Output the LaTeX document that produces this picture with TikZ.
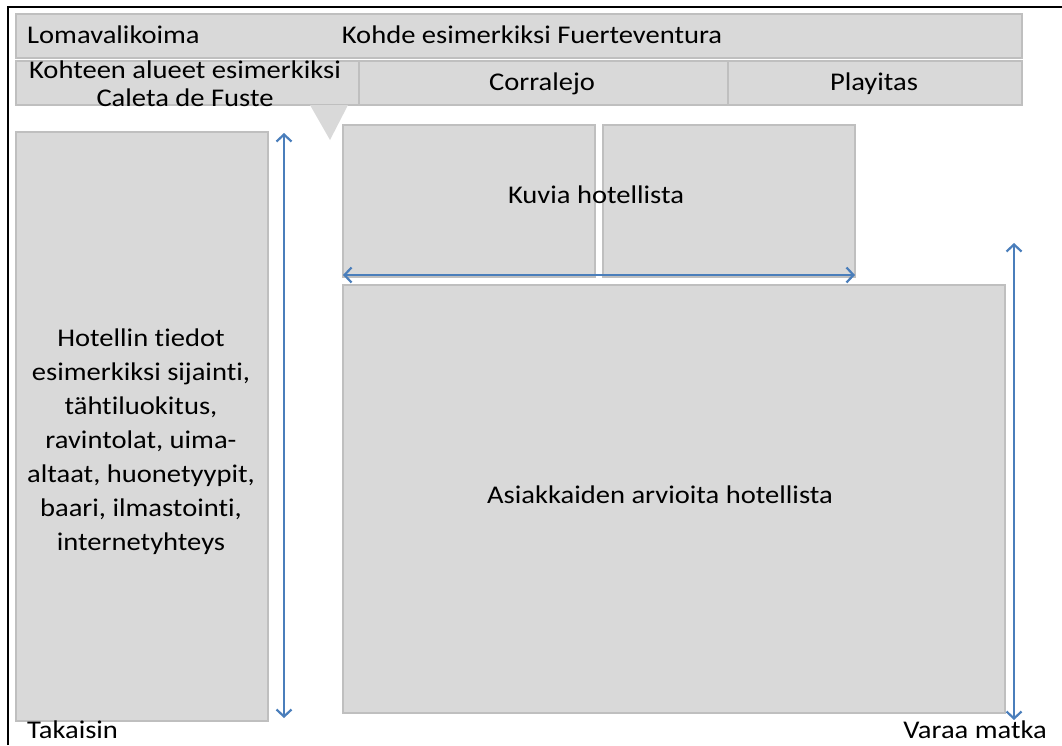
\documentclass[tikz,border=0pt]{standalone}
\usepackage{fontspec}
\setmainfont{Carlito}[FakeStretch=1.12, Ligatures=NoCommon]
\usetikzlibrary{arrows.meta}
\definecolor{boxgray}{HTML}{D9D9D9}
\definecolor{boxedge}{HTML}{BFBFBF}
\definecolor{arrowblue}{HTML}{4A7EBB}
\begin{document}
\begin{tikzpicture}[x=1pt,y=-1pt,
    panel/.style={draw=boxedge, fill=boxgray, line width=1.5pt, inner sep=0pt, anchor=north west},
    txt/.style={font=\fontsize{25.5}{34}\selectfont, inner sep=0pt, align=center},
    scroll/.style={draw=arrowblue, line width=2.2pt,
      {Straight Barb[length=7pt,width=15pt,line width=2.2pt]}-{Straight Barb[length=7pt,width=15pt,line width=2.2pt]}}]
  \useasboundingbox (0,0) rectangle (1062,745);
  % outer frame (cut at right and bottom)
  \draw [line width=2pt] (8,745) -- (8,7) -- (1062,7);

  % header rows
  \node [panel, minimum width=1006pt, minimum height=44pt] (dest) at (15,13) {};
  \node [panel, minimum width=343pt, minimum height=44pt] (area) at (15,60) {};
  \node [panel, minimum width=369pt, minimum height=44pt] (corr) at (358,60) {};
  \node [panel, minimum width=294pt, minimum height=44pt] (play) at (727,60) {};
  % pointer under the chosen area
  \fill [boxgray] (310,105) -- (348,105) -- (330,140) -- cycle;

  % page body
  \node [panel, minimum width=252pt, minimum height=589pt] (info) at (15,131) {};
  \node [panel, minimum width=252pt, minimum height=152pt] (pic1) at (342,124) {};
  \node [panel, minimum width=252pt, minimum height=152pt] (pic2) at (602,124) {};
  \node [panel, minimum width=662pt, minimum height=428pt] (revs) at (342,284) {};

  % texts
  \node [txt, anchor=west] (menu) at (27,35) {Lomavalikoima};
  \node [txt] (destlab) at (532,35) {Kohde esimerkiksi Fuerteventura};
  \node [txt, font=\fontsize{25.5}{28}\selectfont] (arealab) at (185,84) {Kohteen alueet esimerkiksi\\Caleta de Fuste};
  \node [txt] (corrlab) at (542,84) {Corralejo};
  \node [txt] (playlab) at (874,84) {Playitas};
  \node [txt] (piclab) at (596,195) {Kuvia hotellista};
  \node [txt] (revlab) at (660,495) {Asiakkaiden arvioita hotellista};
  \node [txt] (infolab) at (141,442) {Hotellin tiedot\\esimerkiksi sijainti,\\tähtiluokitus,\\ravintolat, uima-\\altaat, huonetyypit,\\baari, ilmastointi,\\internetyhteys};
  \node [txt, anchor=west] (back) at (27,730) {Takaisin};
  \node [txt, anchor=east] (book) at (1047,730) {Varaa matka};

  % scrolling arrows
  \coordinate (lt) at (284,133);
  \coordinate (lb) at (284,718);
  \coordinate (hl) at (343,275);
  \coordinate (hr) at (855,275);
  \coordinate (rt) at (1014,243);
  \coordinate (rb) at (1014,720);
  \draw [scroll] (lt) -- (lb);
  \draw [scroll] (hl) -- (hr);
  \draw [scroll] (rt) -- (rb);
\end{tikzpicture}
\end{document}
